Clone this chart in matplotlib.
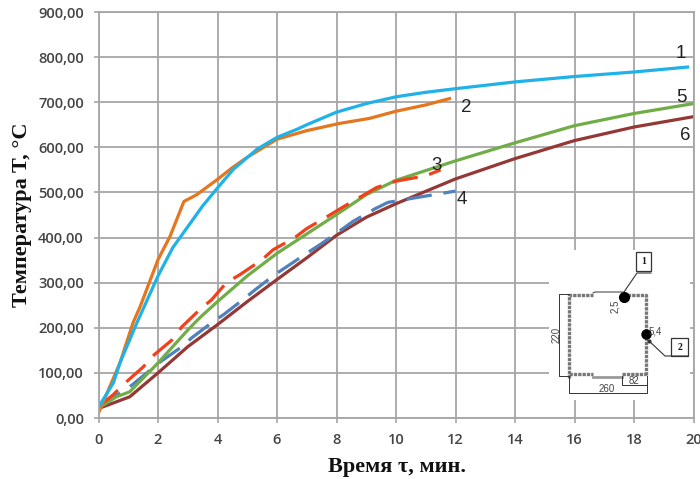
import matplotlib
matplotlib.use("Agg")
import matplotlib.pyplot as plt

# values
time_1 = [0, 0.5, 0.72, 1.29, 2, 2.5, 3, 3.5, 4, 4.53, 5.33, 6, 6.67, 7, 8, 9, 10, 11, 12, 14, 16, 18, 19.8]
temp_1 = [24, 78, 122, 211, 315, 378, 424, 470, 510, 551, 596, 622, 640, 650, 678, 697, 712, 722, 730, 745, 757, 767, 778]

time_2 = [0, 0.72, 1.16, 1.4, 2, 2.4, 2.87, 3.3, 4, 4.5, 5, 6, 7, 8.1, 9.1, 10, 11, 11.8]
temp_2 = [11, 122, 211, 247, 351, 402, 480, 495, 529, 555, 578, 618, 637, 653, 664, 680, 694, 708]

time_3 = [0, 0.5, 0.9, 1.5, 1.87, 2.47, 2.8, 3.4, 3.8, 4.3, 4.76, 5.5, 5.87, 6.6, 7, 7.7, 8.2, 9.35, 10, 11, 11.5]
temp_3 = [25, 52, 78, 113, 140, 173, 202, 240, 262, 300, 318, 351, 373, 400, 420, 447, 467, 511, 525, 537, 550]

time_4 = [0, 1.05, 2.07, 2.8, 3.14, 3.8, 4.2, 4.85, 5.26, 5.93, 6.34, 7.04, 7.44, 8.18, 8.56, 9.3, 9.73, 11, 12]
temp_4 = [25, 69, 124, 158, 178, 211, 229, 262, 284, 318, 336, 367, 384, 418, 436, 464, 478, 492, 503]

time_5 = [0, 0.6, 1.05, 2, 3, 3.4, 4, 5, 6, 7, 8, 9, 10, 12, 14, 16, 18, 20]
temp_5 = [22, 47, 58, 122, 195, 222, 258, 315, 365, 408, 451, 495, 527, 570, 610, 648, 675, 697]

time_6 = [0, 1.05, 2, 3, 4, 5, 6, 7, 8, 9, 10, 12, 14, 16, 18, 20]
temp_6 = [21, 47, 100, 158, 207, 258, 307, 355, 405, 445, 475, 530, 575, 615, 645, 668]

x_ticks = list(range(0, 21, 2))
y_ticks = list(range(0, 901, 100))

W, H = 700, 479
fig = plt.figure(figsize=(7, 4.79), dpi=100)
ax = fig.add_axes([98.5 / W, 1 - 418 / H, (693.5 - 98.5) / W, (418 - 12) / H])

ax.plot(time_6, temp_6, color="#953735", lw=2.3)
ax.plot(time_4, temp_4, color="#4f81bd", lw=2.3, dashes=(8, 3.7))
ax.plot(time_5, temp_5, color="#70ad47", lw=2.3)
ax.plot(time_3, temp_3, color="#f0401c", lw=2.3, dashes=(8, 3.7))
ax.plot(time_2, temp_2, color="#e5761d", lw=2.3)
ax.plot(time_1, temp_1, color="#1fb2e8", lw=2.3)

ax.set_xlim(0, 20)
ax.set_ylim(0, 900)
ax.set_xticks(x_ticks)
ax.set_yticks(y_ticks)
ax.set_yticklabels([f"{v},00" for v in y_ticks])
ax.grid(True, color="#a6a6a6", lw=1.3)
ax.set_axisbelow(True)
for s in ax.spines.values():
    s.set_color("#a6a6a6")
    s.set_linewidth(1.3)
ax.tick_params(color="#a6a6a6", length=3.5, width=1.2, pad=7)
for lab in ax.get_xticklabels() + ax.get_yticklabels():
    lab.set_family("Open Sans")
    lab.set_fontsize(10.5)
    lab.set_fontweight(600)
    lab.set_color("#444444")

fig.text(22 / W, 1 - 214.5 / H, "Температура T, °C", rotation=90, ha="center", va="center",
         family="Liberation Serif", fontweight="bold", fontsize=16, color="#111111")
fig.text(397 / W, 1 - 467 / H, "Время τ, мин.", ha="center", va="center",
         family="Liberation Serif", fontweight="bold", fontsize=16, color="#111111")

# curve numbers
for txt, px, py in [("1", 681, 54), ("2", 466, 108), ("3", 437, 165),
                    ("4", 462, 200), ("5", 681, 98), ("6", 685, 135)]:
    fig.text(px / W, 1 - py / H, txt, ha="center", va="center",
             family="Liberation Sans", fontsize=13.5, color="#222222", zorder=5)

# inset section drawing, in picture pixels
ins = fig.add_axes([0, 0, 1, 1], facecolor="none")
ins.set_xlim(0, W)
ins.set_ylim(H, 0)
ins.axis("off")
ins.add_patch(plt.Rectangle((549, 250), 141, 150, fc="white", ec="none"))

c = "#333333"
# walls
wall = dict(color="#777777", lw=2.4, ls=(0, (1, 0.3)), solid_capstyle="butt")
ins.plot([569, 569, 593], [378, 295, 295], **wall)
ins.plot([569, 593], [374, 374], **wall)
ins.plot([623, 646, 646], [295, 295, 375], **wall)
ins.plot([622, 646], [374, 374], **wall)
ins.plot([593, 622], [377, 377], color="#999999", lw=2)
# thin outline
ins.plot([593, 595, 623], [293, 292, 292], color=c, lw=0.7)
ins.plot([569, 559, 559, 569], [294, 294, 376, 376], color=c, lw=0.7)
ins.plot([569, 569, 647, 647], [376, 393, 393, 376], color=c, lw=0.7)
ins.plot([622, 622, 647], [376, 385, 385], color=c, lw=0.7)
# thermocouples and leaders
ins.plot([623.5], [297], "o", color="black", ms=7)
ins.plot([645.5], [334], "o", color="black", ms=6.5)
ins.plot([624, 637, 651], [292, 273, 273], color=c, lw=0.8)
ins.plot([648, 665, 688], [340, 356, 356], color=c, lw=0.8)
ins.plot([649], [341], marker="o", color=c, ms=2)
ins.add_patch(plt.Rectangle((636, 252), 15, 19, fc="white", ec=c, lw=0.9))
ins.add_patch(plt.Rectangle((671, 338), 17, 18, fc="white", ec=c, lw=0.9))
bold = dict(family="Liberation Serif", fontweight="bold", fontsize=7, ha="center", va="center", color="#111111")
ins.text(643.5, 261, "1", **bold)
ins.text(679.5, 347, "2", **bold)
small = dict(family="Liberation Sans", fontsize=7, ha="center", va="center", color="#444444")
ins.text(556.5, 335, "220", rotation=90, **small)
ins.text(607, 389, "260", **small)
ins.text(634, 381, "82", **small)
ins.text(615, 306, "2,5", rotation=90, **small)
ins.text(655, 331, "5,4", **small)

fig.savefig("out.png", dpi=100)
